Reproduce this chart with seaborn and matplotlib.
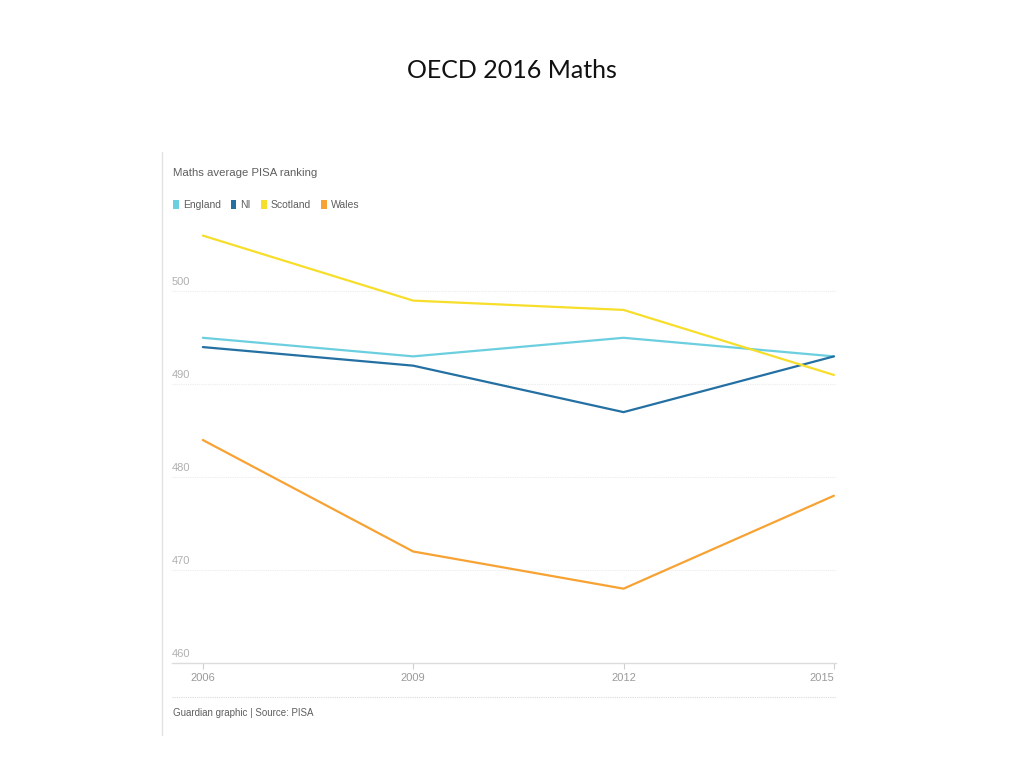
import numpy as np
import pandas as pd
import matplotlib
matplotlib.use("Agg")
import matplotlib.pyplot as plt
from matplotlib.patches import Patch
from matplotlib.lines import Line2D
import seaborn as sns

# --- data ---
years = [2006, 2009, 2012, 2015]
england = [495, 493, 495, 493]
ni = [494, 492, 487, 493]
scotland = [506, 499, 498, 491]
wales = [484, 472, 468, 478]
countries = ["England", "NI", "Scotland", "Wales"]
y_ticks = [460, 470, 480, 490, 500]

colors = {"England": "#6ccfe0", "NI": "#2470a3", "Scotland": "#f7de2a", "Wales": "#f7a233"}

df = pd.DataFrame({
    "year": years * 4,
    "score": england + ni + scotland + wales,
    "country": np.repeat(countries, len(years)),
})

sns.set_theme(style="white")
narrow = ["Liberation Sans", "DejaVu Sans"]
grey_txt = "#5f5f5f"

fig = plt.figure(figsize=(10.24, 7.68), dpi=100)
ax = fig.add_axes([172 / 1024, 105 / 768, 664 / 1024, 446 / 768])

sns.lineplot(data=df, x="year", y="score", hue="country", palette=colors,
             linewidth=1.6, ax=ax, legend=False)

ax.set_xlim(2005.56, 2015.03)
ax.set_ylim(460, 508)
ax.set_xlabel("")
ax.set_ylabel("")
for s in ["top", "right", "left"]:
    ax.spines[s].set_visible(False)
ax.spines["bottom"].set_color("#dcdcdc")
ax.spines["bottom"].set_linewidth(1.0)

# gridlines + labels sitting above them
ax.set_yticks(y_ticks)
ax.set_yticklabels([])
ax.tick_params(axis="y", length=0)
for v in y_ticks:
    if v > 460:
        ax.axhline(v, color="#ececec", lw=0.8, ls=(0, (1, 1)), zorder=0)
    ax.text(0.0, v + 0.45, str(v), transform=ax.get_yaxis_transform(),
            ha="left", va="bottom", fontsize=8, color="#b0b0b0", family=narrow)

ax.set_xticks(years)
ax.set_xticklabels([str(y) for y in years], fontsize=8, color="#9a9a9a", family=narrow)
ax.get_xticklabels()[-1].set_ha("right")
ax.get_xticklabels()[-1].set_position((2015.03, 0))
ax.tick_params(axis="x", length=4, width=0.8, color="#cfcfcf", pad=3, bottom=True)

# slide title
fig.text(0.5, 1 - 70 / 768, "OECD 2016 Maths", ha="center", va="center",
         fontsize=18, family=["Lato", "DejaVu Sans"], color="#111111")

# chart header and legend
fig.text(173 / 1024, 1 - 173 / 768, "Maths average PISA ranking", ha="left", va="center",
         fontsize=8.2, color=grey_txt, family=narrow)
handles = [Patch(facecolor=colors[c], edgecolor="none", label=c) for c in countries]
leg = fig.legend(handles=handles, loc="center left", bbox_to_anchor=(164 / 1024, 1 - 205 / 768),
                 ncol=4, frameon=False, handlelength=0.5, handleheight=1.0,
                 handletextpad=0.4, columnspacing=1.0, prop={"family": narrow, "size": 7.5})
for t in leg.get_texts():
    t.set_color(grey_txt)

# frame of the embedded graphic
fig.add_artist(Line2D([162 / 1024, 162 / 1024], [1 - 152 / 768, 1 - 735 / 768],
                      color="#e2e2e2", lw=1))
fig.add_artist(Line2D([172 / 1024, 836 / 1024], [1 - 697 / 768, 1 - 697 / 768],
                      color="#dadada", lw=0.8, ls=(0, (1, 1))))
fig.text(173 / 1024, 1 - 713 / 768, "Guardian graphic | Source: PISA", ha="left", va="center",
         fontsize=7, color=grey_txt, family=narrow)

fig.savefig("out.png", dpi=100, facecolor="white")
